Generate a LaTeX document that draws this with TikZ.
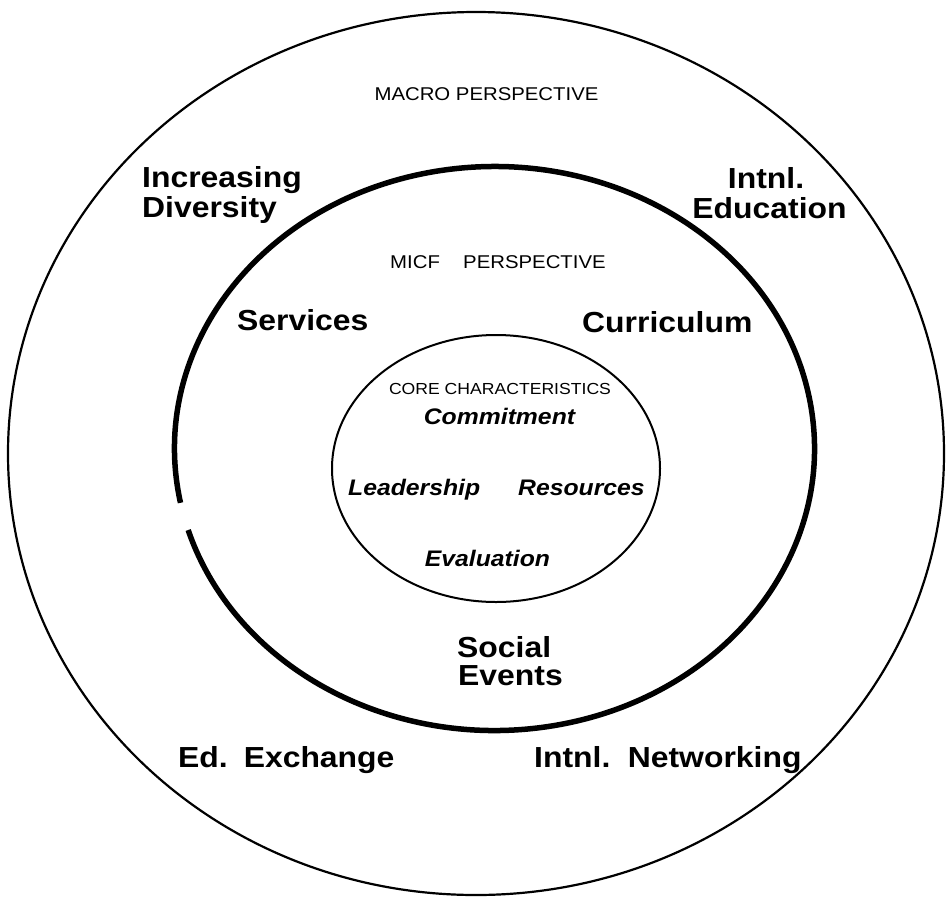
\documentclass[tikz,border=0pt]{standalone}
\usepackage{fontspec}
\newfontfamily\lsans[FakeStretch=1.1]{Liberation Sans}
\tikzset{
  bigtxt/.style={font=\lsans\bfseries\fontsize{29}{29}\selectfont, inner sep=0pt, anchor=base west},
  smalltxt/.style={font=\lsans\fontsize{18.5}{18.5}\selectfont, inner sep=0pt, anchor=base},
  coretxt/.style={font=\lsans\fontsize{16}{16}\selectfont, inner sep=0pt, anchor=base},
  italtxt/.style={font=\lsans\bfseries\itshape\fontsize{22.5}{22.5}\selectfont, inner sep=0pt, anchor=base},
  ring/.style={draw=black, line width=2.2pt},
  thickring/.style={draw=black, line width=5.5pt, line cap=butt},
  corering/.style={draw=black, line width=2pt}
}
\begin{document}
\begin{tikzpicture}[x=1pt, y=-1pt]
\fill[white] (0,0) rectangle (946,898);
\useasboundingbox (0,0) rectangle (946,898);
% rings
\draw[ring] (476,453.5) ellipse [x radius=468, y radius=441.5];
\draw[thickring] (180.5,502.8) arc[start angle=168.9, end angle=523.2, x radius=320, y radius=282];
\draw[corering] (496,468.5) ellipse [x radius=164, y radius=133.5];
% macro level
\node[smalltxt] (macro) at (486.5,100) {MACRO PERSPECTIVE};
\node[bigtxt] (incr) at (142,187) {Increasing};
\node[bigtxt] (divers) at (142,217) {Diversity};
\node[bigtxt, anchor=base] (intnl) at (766,188) {Intnl.};
\node[bigtxt, anchor=base] (educ) at (769.5,218) {Education};
\node[bigtxt] (edex) at (178,767) {Ed.\hspace{0.55em}Exchange};
\node[bigtxt] (intnet) at (534,767) {Intnl.\hspace{0.6em}Networking};
% micro level
\node[smalltxt, anchor=base west] (micf) at (390,268) {MICF};
\node[smalltxt, anchor=base west] (persp) at (463,268) {PERSPECTIVE};
\node[bigtxt] (serv) at (237,330) {Services};
\node[bigtxt] (curr) at (582,332) {Curriculum};
\node[bigtxt] (social) at (457,657) {Social};
\node[bigtxt] (events) at (458,685) {Events};
% core
\node[coretxt] (core) at (500,394) {CORE CHARACTERISTICS};
\node[italtxt] (commit) at (499.5,424) {Commitment};
\node[italtxt, anchor=base west] (lead) at (348,495) {Leadership};
\node[italtxt, anchor=base west] (res) at (518,495) {Resources};
\node[italtxt] (eval) at (487.5,566) {Evaluation};
\end{tikzpicture}
\end{document}
